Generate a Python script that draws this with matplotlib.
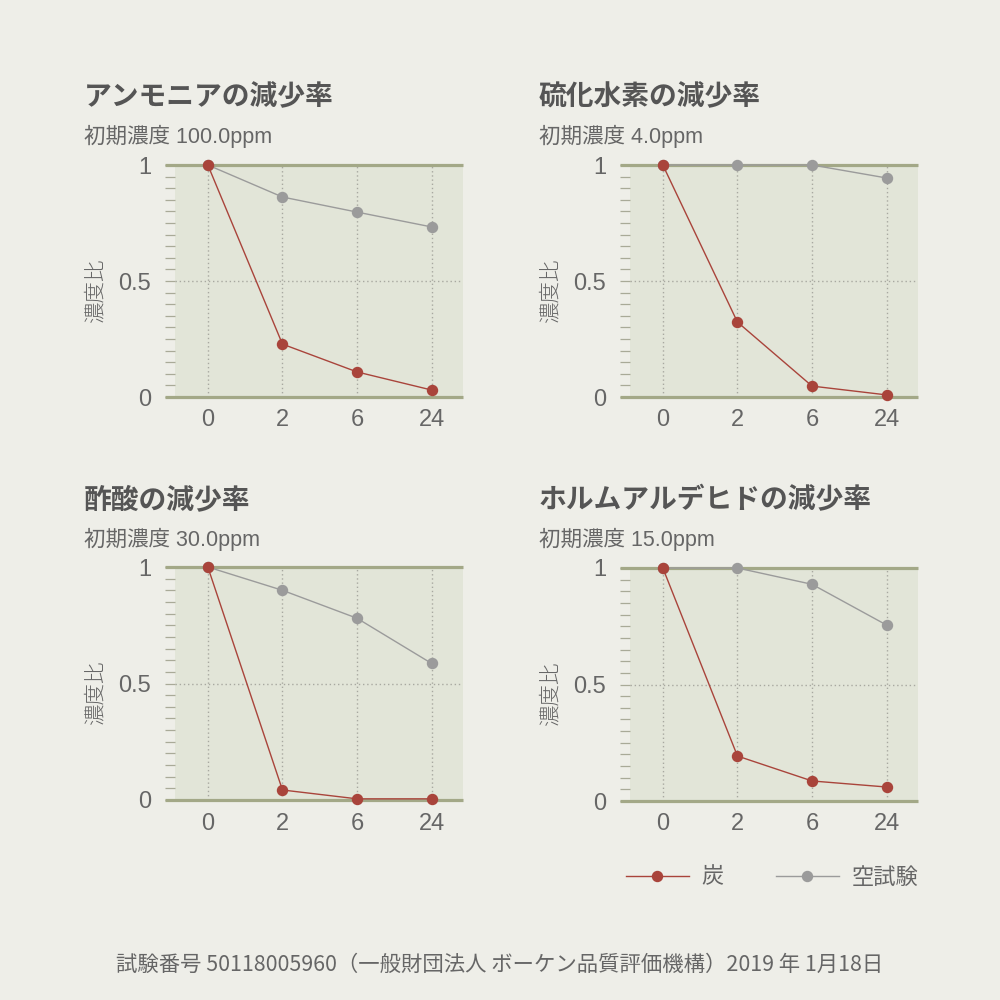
import matplotlib
matplotlib.use("Agg")
import matplotlib.pyplot as plt
from matplotlib.lines import Line2D

plt.rcParams["font.family"] = ["Noto Sans CJK JP", "DejaVu Sans"]
LATIN = ["Liberation Sans", "Noto Sans CJK JP"]

# ---- data ----
hours = ["0", "2", "6", "24"]

titles = ["アンモニアの減少率", "硫化水素の減少率", "酢酸の減少率", "ホルムアルデヒドの減少率"]
initials = ["初期濃度 100.0ppm", "初期濃度 4.0ppm", "初期濃度 30.0ppm", "初期濃度 15.0ppm"]

charcoal = [
    [1.0, 0.228, 0.108, 0.030],
    [1.0, 0.323, 0.047, 0.009],
    [1.0, 0.043, 0.005, 0.005],
    [1.0, 0.193, 0.086, 0.060],
]
blank = [
    [1.0, 0.862, 0.797, 0.733],
    [1.0, 1.0, 1.0, 0.944],
    [1.0, 0.900, 0.780, 0.586],
    [1.0, 1.0, 0.930, 0.755],
]

series_labels = ["炭", "空試験"]
footer = "試験番号 50118005960（一般財団法人 ボーケン品質評価機構）2019 年 1月18日"

# ---- style ----
BG = "#eeeee8"
PANEL = "#e2e5d8"
OLIVE = "#a3a887"
TICK = "#a9aa98"
GRID = "#a8a8a0"
RED = "#a9443b"
GRAY = "#9b9b9b"
TXT = "#555555"
TXT2 = "#666666"

fig = plt.figure(figsize=(10, 10), dpi=100)
fig.patch.set_facecolor(BG)

# axes boxes in figure fraction: left, bottom, width, height
boxes = [
    (0.175, 0.603, 0.288, 0.232),
    (0.630, 0.603, 0.288, 0.232),
    (0.175, 0.200, 0.288, 0.233),
    (0.630, 0.199, 0.288, 0.233),
]
title_pos = [
    (0.084, 0.9025, 0.8635),
    (0.539, 0.9025, 0.8635),
    (0.084, 0.500, 0.461),
    (0.539, 0.500, 0.461),
]

x = list(range(len(hours)))

for i, box in enumerate(boxes):
    ax = fig.add_axes(box)
    ax.set_facecolor(PANEL)
    ax.set_xlim(-0.44, 3.42)
    ax.set_ylim(0, 1)
    for s in ax.spines.values():
        s.set_visible(False)

    # dotted grid
    for xv in x:
        ax.axvline(xv, color=GRID, lw=1.0, ls=(0, (1, 2)), zorder=1)
    ax.axhline(0.5, color=GRID, lw=1.0, ls=(0, (1, 2)), zorder=1)

    # thick lines at 0 and 1, extended past the tick area
    for yv in (0, 1):
        ax.plot([-0.033, 1.0], [yv, yv], transform=ax.get_yaxis_transform(),
                color=OLIVE, lw=2.3, clip_on=False, zorder=2, solid_capstyle="butt")

    ax.plot(x, blank[i], "o-", color=GRAY, lw=1.0, ms=7.2, zorder=3, clip_on=False)
    ax.plot(x, charcoal[i], "o-", color=RED, lw=1.0, ms=7.2, zorder=4, clip_on=False)

    ax.set_xticks(x)
    ax.set_xticklabels(hours, family=LATIN)
    ax.tick_params(axis="x", length=0, pad=9, labelsize=17, labelcolor=TXT2)

    ax.set_yticks([0, 0.5, 1])
    ax.set_yticklabels(["0", "0.5", "1"], family=LATIN)
    ax.set_yticks([k * 0.05 for k in range(21)], minor=True)
    ax.tick_params(axis="y", which="both", direction="out", length=7.2,
                   width=0.9, color=TICK)
    ax.tick_params(axis="y", which="major", pad=10, labelsize=17, labelcolor=TXT2)

    ax.set_ylabel("濃度比", fontsize=15.5, color=TXT2, fontweight="light")
    ax.yaxis.set_label_coords(-0.236, 0.46)

    tx, ty1, ty2 = title_pos[i]
    fig.text(tx, ty1, titles[i], fontsize=20, fontweight="bold", color=TXT,
             ha="left", va="center")
    fig.text(tx, ty2, initials[i], fontsize=15.5, color=TXT2, ha="left", va="center",
             family=LATIN)

handles = [
    Line2D([], [], color=RED, lw=1.0, marker="o", ms=7.2),
    Line2D([], [], color=GRAY, lw=1.0, marker="o", ms=7.2),
]
leg = fig.legend(handles, series_labels, loc="center right",
                 bbox_to_anchor=(0.918, 0.123), ncol=2, frameon=False,
                 fontsize=16, handlelength=2.85, handletextpad=0.55,
                 columnspacing=2.35, borderpad=0, borderaxespad=0)
for t in leg.get_texts():
    t.set_color(TXT2)

fig.text(0.5, 0.035, footer, fontsize=15.4, color=TXT2, ha="center", va="center")

fig.savefig("out.png", dpi=100, facecolor=BG)
